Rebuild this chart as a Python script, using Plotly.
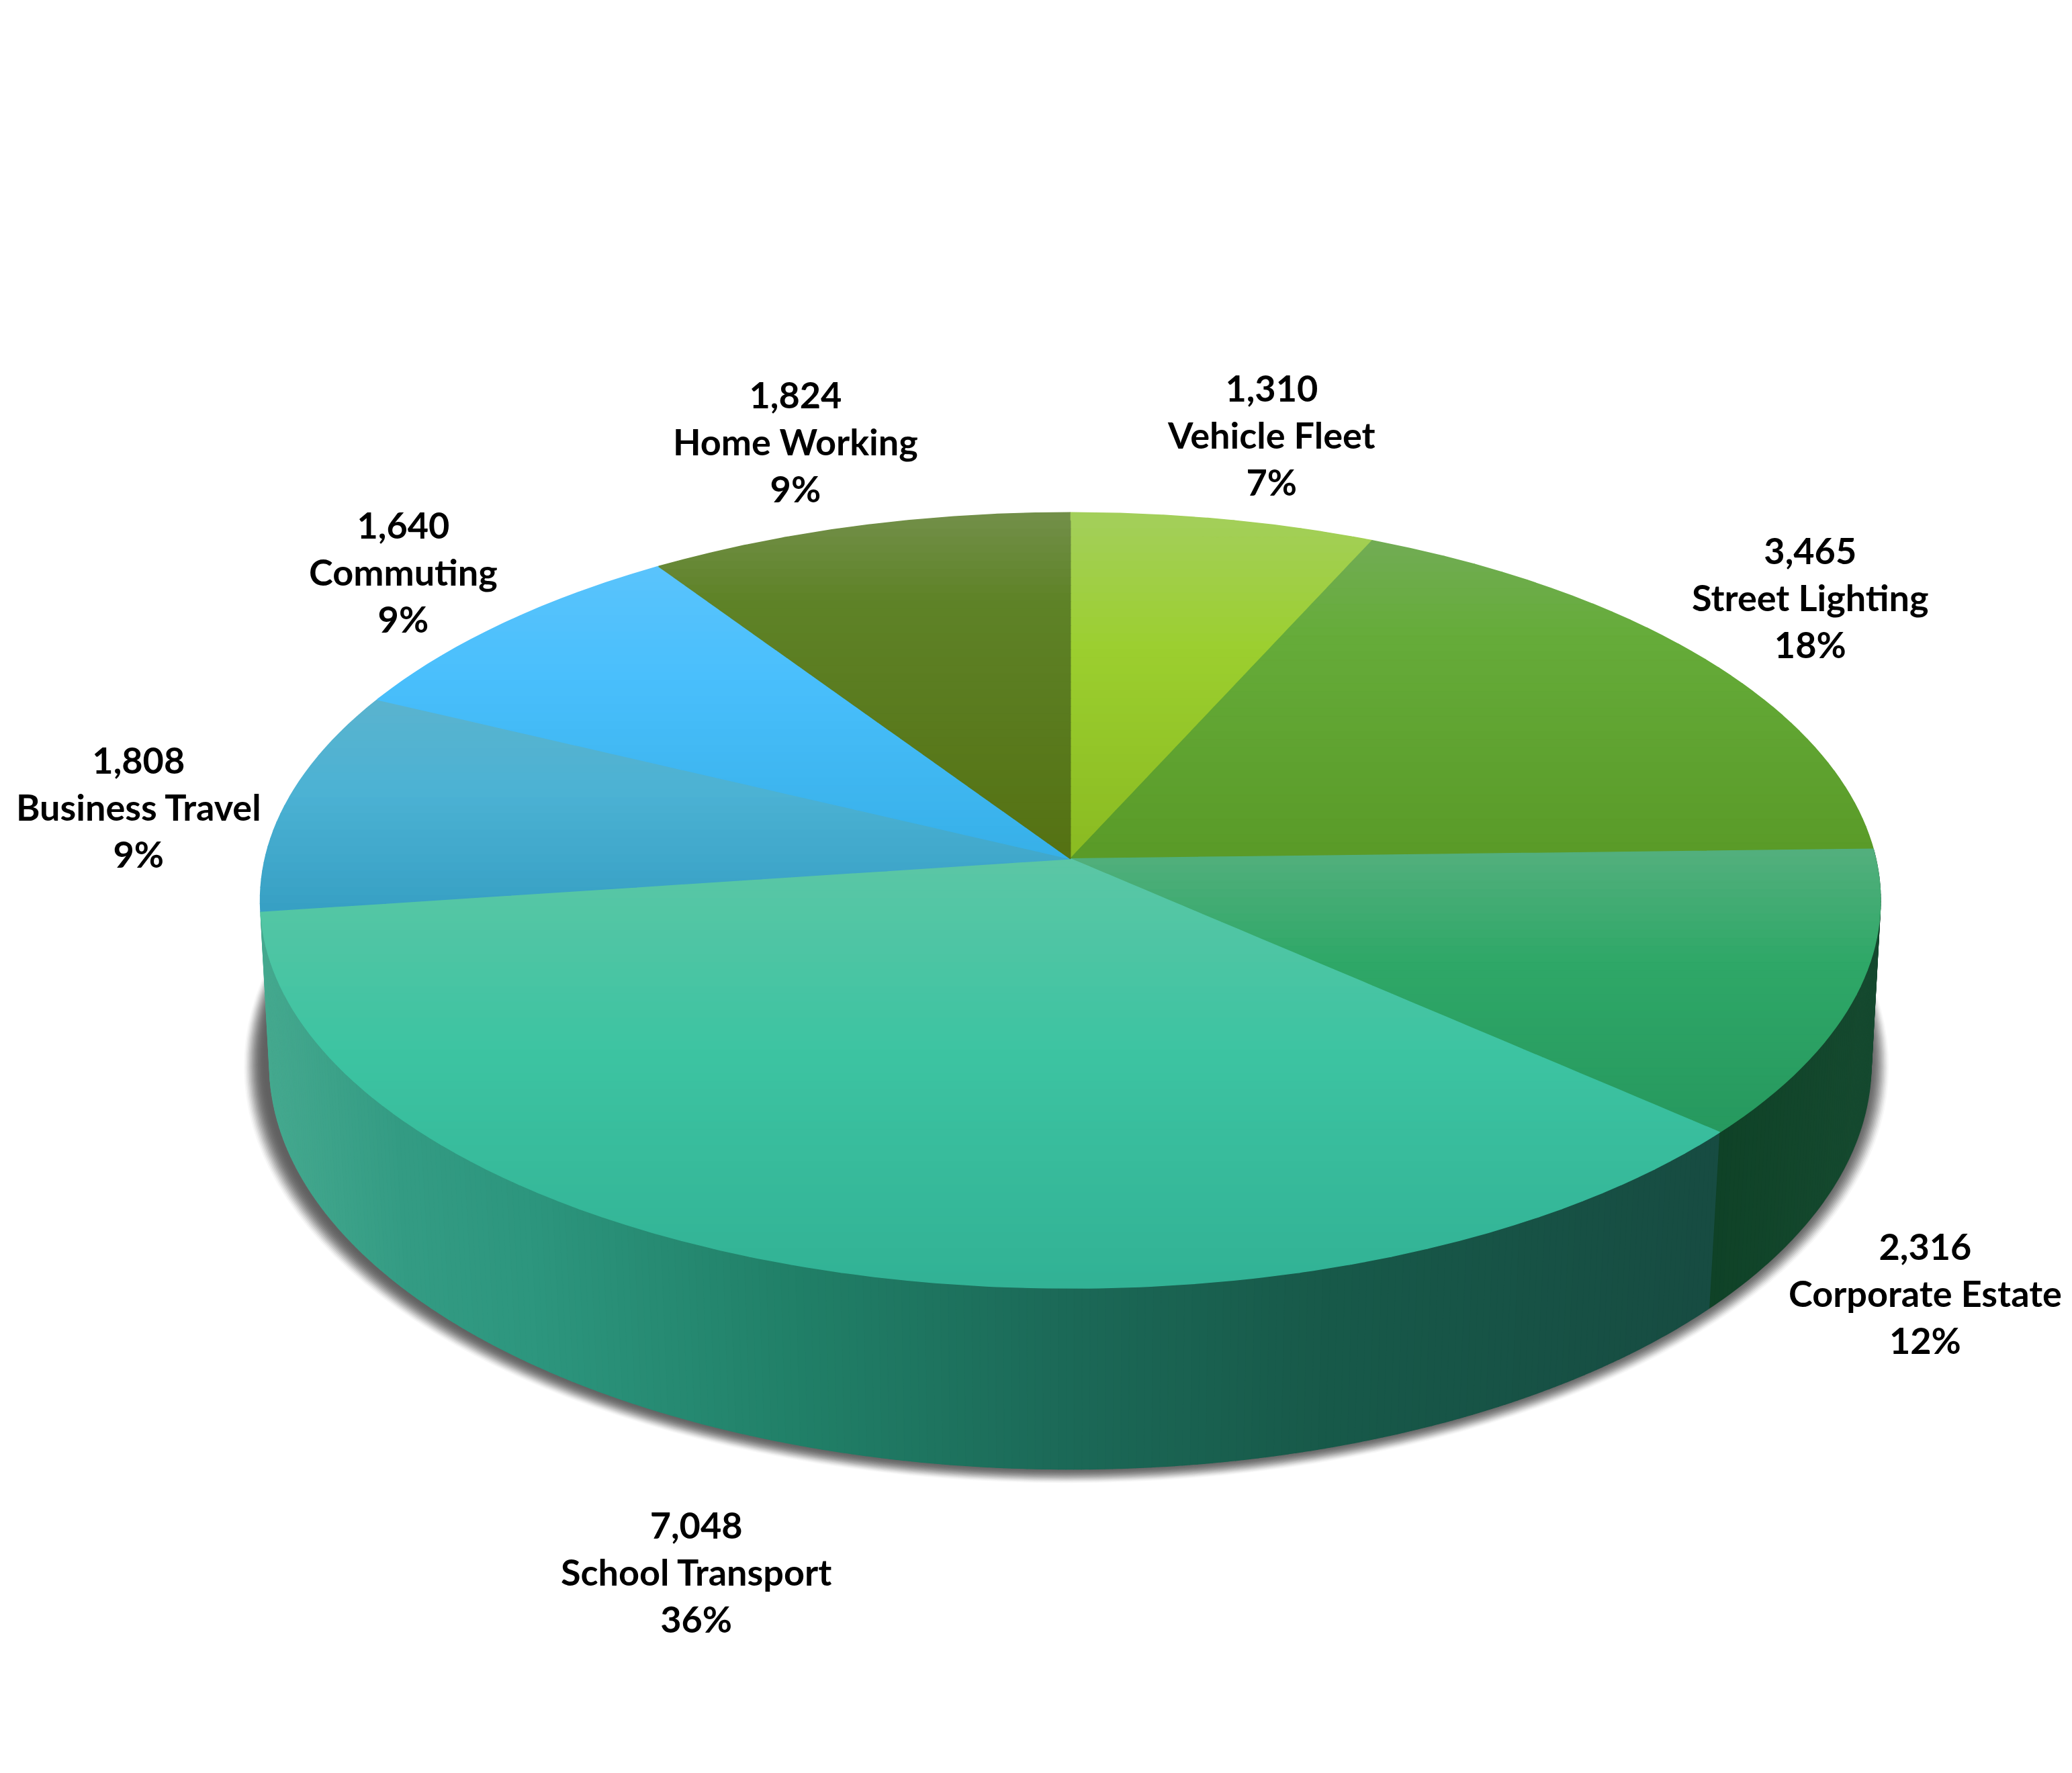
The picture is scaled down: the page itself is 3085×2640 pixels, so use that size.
import numpy as np
import plotly.graph_objects as go

# Pie data, clockwise from 12 o'clock
categories = ["Vehicle Fleet", "Street Lighting", "Corporate Estate", "School Transport",
              "Business Travel", "Commuting", "Home Working"]
values = [1310, 3465, 2316, 7048, 1808, 1640, 1824]
percent_labels = ["7%", "18%", "12%", "36%", "9%", "9%", "9%"]

# vertical gradient of each top face (fraction of slice height, colour)
top_colors = [
    [(0, "#a4d05c"), (0.4, "#9ccf2f"), (1, "#8abb22")],
    [(0, "#72ad55"), (0.3, "#66ac3a"), (1, "#5a9b28")],
    [(0, "#54b07e"), (0.4, "#2fa868"), (1, "#27995f")],
    [(0, "#5cc7a6"), (0.45, "#3dc4a2"), (1, "#32b295")],
    [(0, "#5ab4cf"), (0.45, "#4cb2d4"), (1, "#37a0c4")],
    [(0, "#5ac4fd"), (0.4, "#49bffc"), (1, "#37b0e8")],
    [(0, "#73904a"), (0.25, "#5f8328"), (1, "#557213")],
]
# horizontal gradient of the side wall (image x, colour), only front slices show one
wall_colors = {
    2: [(1295, "#0f4227"), (1420, "#164a30")],
    3: [(200, "#45a98f"), (300, "#349c84"), (400, "#2d967e"), (600, "#218068"), (800, "#1c6a58"),
        (1000, "#185a4a"), (1300, "#174c42")],
}

# label centres in image units
label_x = [962, 1370, 1457, 527, 105, 305, 602]
label_y = [329, 452, 979, 1190, 611, 433, 334]

# image units are the 1568 wide preview, axes map them on the whole page
W, H = 1568, 1342

# perspective of the upper and lower disc
K = 0.1073
TOP = dict(cx=810, a=609.5, b=-220.4, c=650, k=K)
LOW = dict(cx=810, a=603, b=-226.4, c=774.4, k=0.10)


def project(theta, d):
    u, v = np.sin(theta), np.cos(theta)
    den = 1 + d["k"] * v
    return d["cx"] + d["a"] * u / den, (d["b"] * v + d["c"]) / den


def clip(pts, y0, y1):
    # Sutherland-Hodgman on two horizontal lines
    for limit, sign in ((y0, 1), (y1, -1)):
        out = []
        for i in range(len(pts)):
            p, q = pts[i - 1], pts[i]
            pin, qin = sign * (p[1] - limit) >= 0, sign * (q[1] - limit) >= 0
            if pin != qin:
                t = (limit - p[1]) / (q[1] - p[1])
                out.append((p[0] + t * (q[0] - p[0]), limit))
            if qin:
                out.append(q)
        pts = out
        if not pts:
            break
    return pts


def mix(stops, t):
    pos = [s[0] for s in stops]
    rgb = [[int(s[1][i:i + 2], 16) for i in (1, 3, 5)] for s in stops]
    return "rgb(%d,%d,%d)" % tuple(np.interp(t, pos, [c[j] for c in rgb]) for j in range(3))


def polygon(xs, ys, color, line=True):
    return go.Scatter(x=xs, y=ys, mode="lines", fill="toself", fillcolor=color,
                      line=dict(color=color, width=1.5) if line else dict(width=0),
                      hoverinfo="skip", showlegend=False)


fig = go.Figure()

edges = np.cumsum([0] + values) / sum(values) * 2 * np.pi

# drop shadow, stacked rings around the lower disc, softer outwards
rim = np.radians(np.arange(0, 361, 2))
n_rings = 14
for i in range(n_rings, 0, -1):
    f = i / n_rings
    x, y = project(rim, LOW)
    cy = 650
    xs = 807 + (x - 810) * (1 + 0.027 * f)
    ys = cy + (y - cy) * (1 + 0.027 * f) - 2
    fig.add_trace(polygon(xs, ys, "rgba(95,95,95,%.2f)" % (0.05 + 0.4 * (1 - f)), line=False))

# side walls
for i, stops in wall_colors.items():
    th = np.linspace(edges[i], edges[i + 1], int(np.degrees(edges[i + 1] - edges[i])) * 2 + 1)
    for a0, a1 in zip(th[:-1], th[1:]):
        tx, ty = project(np.array([a0, a1]), TOP)
        lx, ly = project(np.array([a1, a0]), LOW)
        fig.add_trace(polygon(list(tx) + list(lx), list(ty) + list(ly),
                              mix(stops, (tx[0] + tx[1]) / 2)))

# top faces cut in horizontal bands for the gradient
for i in range(len(values)):
    th = np.linspace(edges[i], edges[i + 1], 200)
    px, py = project(th, TOP)
    pts = [(TOP["cx"], TOP["c"])] + list(zip(px, py))
    y_min, y_max = min(p[1] for p in pts), max(p[1] for p in pts)
    n = max(int((y_max - y_min) / 6), 1)
    bands = np.linspace(y_min, y_max, n + 1)
    for y0, y1 in zip(bands[:-1], bands[1:]):
        part = clip(pts, y0, y1)
        if len(part) < 3:
            continue
        col = mix(top_colors[i], ((y0 + y1) / 2 - y_min) / (y_max - y_min))
        fig.add_trace(polygon([p[0] for p in part], [p[1] for p in part], col))

# labels
for i, name in enumerate(categories):
    fig.add_annotation(x=label_x[i], y=label_y[i], xref="x", yref="y", showarrow=False,
                       text=f"<b>{values[i]:,}<br>{name}<br>{percent_labels[i]}</b>",
                       align="center", font=dict(family="Lato", size=54, color="#000000"))

fig.update_xaxes(range=[0, W], visible=False, fixedrange=True)
fig.update_yaxes(range=[H, 0], visible=False, fixedrange=True)
fig.update_layout(width=3085, height=2640, margin=dict(l=0, r=0, t=0, b=0),
                  plot_bgcolor="white", paper_bgcolor="white", showlegend=False)

# the browser's default body margin would push the page 8px off
fig.write_html("out.html", config={"displayModeBar": False},
               post_script="document.body.style.margin='0';")
